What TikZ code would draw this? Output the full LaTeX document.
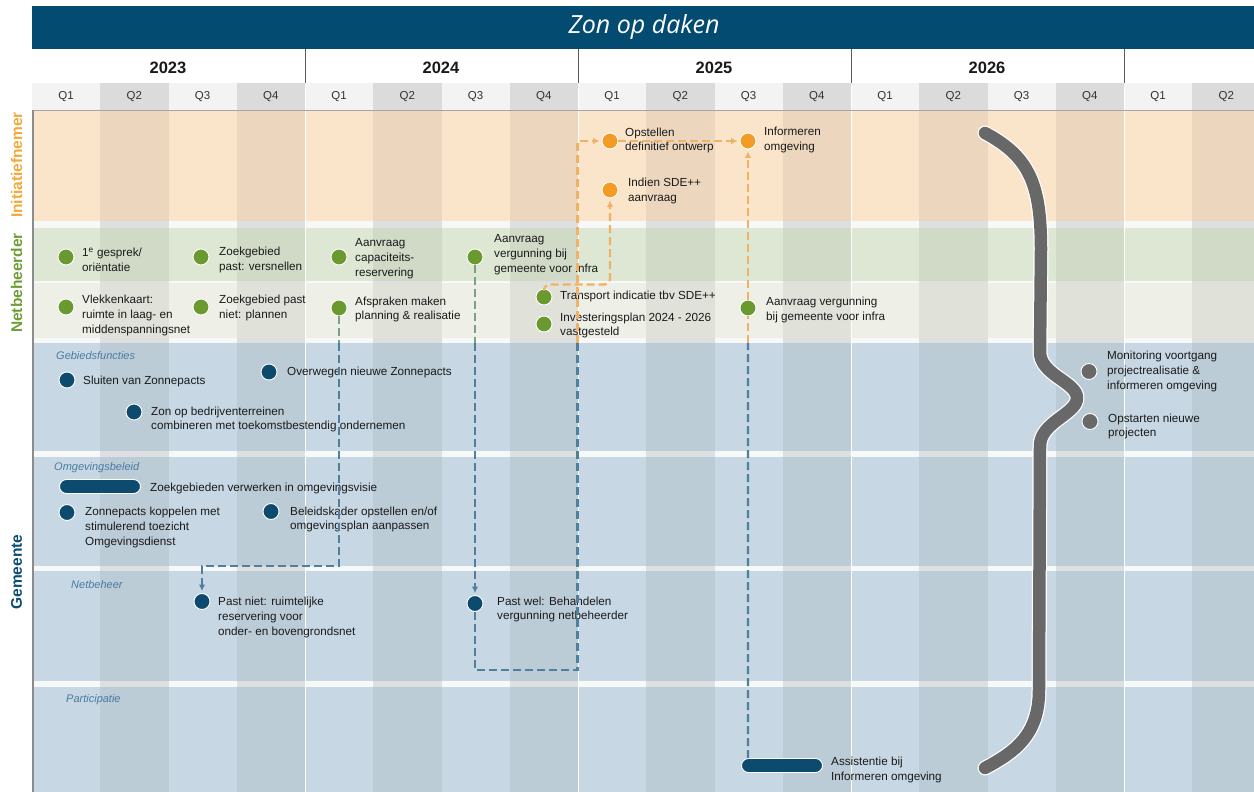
\documentclass[tikz,border=0pt]{standalone}
\usepackage{fontspec}
\setmainfont{Liberation Sans}
\newfontfamily\titlefont{Open Sans}
\usetikzlibrary{arrows.meta,calc}

% palette
\definecolor{navy}{HTML}{044B71}
\definecolor{txtc}{HTML}{1A1A1A}
\definecolor{qlight}{HTML}{F3F3F3}
\definecolor{qdark}{HTML}{DBDBDC}
\definecolor{peach}{HTML}{FAE4CA}
\definecolor{greenA}{HTML}{DEE7D3}
\definecolor{greenB}{HTML}{EEF0E7}
\definecolor{laneblue}{HTML}{C7D8E4}
\definecolor{seplight}{HTML}{F7F8F8}
\definecolor{sepdark}{HTML}{DEDFE0}
\definecolor{dotgreen}{HTML}{6A9A2F}
\definecolor{dotorange}{HTML}{F39C23}
\definecolor{dotblue}{HTML}{0C4A6E}
\definecolor{dotgray}{HTML}{696969}
\definecolor{braceg}{HTML}{686868}
\definecolor{lineO}{HTML}{F0B266}
\definecolor{lineB}{HTML}{4F809D}
\definecolor{lineG}{HTML}{7AA184}
\definecolor{lanec}{HTML}{4A7AA2}
\definecolor{lblorange}{HTML}{F2A93B}
\definecolor{lblgreen}{HTML}{6E9E35}
\definecolor{lblblue}{HTML}{0E4C6F}

\tikzset{
  txt/.style={anchor=west, inner sep=0pt, align=left, text=txtc,
    font=\fontsize{11.7}{14.9}\selectfont},
  lanelbl/.style={anchor=west, inner sep=0pt, text=lanec,
    font=\fontsize{11}{13}\selectfont\itshape},
  sidelbl/.style={rotate=90, inner sep=0pt, font=\fontsize{15.5}{18}\selectfont\bfseries},
  yearlbl/.style={inner sep=0pt, text=black!90, font=\fontsize{16.5}{18}\selectfont\bfseries},
  qlbl/.style={inner sep=0pt, text=black!80, font=\fontsize{11.5}{13}\selectfont},
  dot/.style={circle, inner sep=0pt, minimum size=16pt, draw=white, line width=0.9pt},
  dotG/.style={dot, fill=dotgreen},
  dotO/.style={dot, fill=dotorange},
  dotB/.style={dot, fill=dotblue},
  dotK/.style={dot, fill=dotgray},
  bar/.style={rectangle, rounded corners=7pt, minimum height=14pt, inner sep=0pt,
    fill=dotblue, draw=white, line width=0.9pt},
  flow/.style={line width=2.3pt, dash pattern=on 8pt off 4pt},
  flowO/.style={flow, draw=lineO},
  flowB/.style={flow, draw=lineB},
  flowG/.style={flow, draw=lineG},
  tip/.style={-{Latex[length=6.5pt,width=6.5pt]}, shorten >=2pt},
}

\begin{document}
\begin{tikzpicture}[x=1pt,y=-1pt]
\useasboundingbox (0,0) rectangle (1254,792);
\clip (0,0) rectangle (1254,792);

% ---------- lanes ----------
\fill[peach]    (32,110) rectangle (1254,221);
\fill[greenA]   (32,228) rectangle (1254,281);
\fill[greenB]   (32,283) rectangle (1254,338);
\fill[laneblue] (32,343) rectangle (1254,792);

% quarter columns: darker shade on every second quarter, separators, header cells
\foreach \k in {0,...,17} {
  \pgfmathsetmacro\xa{32+68.25*\k}
  \pgfmathsetmacro\xb{32+68.25*(\k+1)}
  \pgfmathtruncatemacro\odd{mod(\k,2)}
  \pgfmathtruncatemacro\qn{mod(\k,4)+1}
  \ifnum\odd=1
    \fill[black,opacity=0.055] (\xa,110) rectangle (\xb,792);
    \def\sepc{sepdark}\def\hc{qdark}
  \else
    \def\sepc{seplight}\def\hc{qlight}
  \fi
  \foreach \ya/\yb in {221/228, 281/283, 338/343, 451/457, 566/571, 681/687}
    \fill[\sepc] (\xa,\ya) rectangle (\xb,\yb);
  \fill[\hc] (\xa,83) rectangle (\xb,110);
  \node[qlbl] at ({32+68.25*(\k+0.5)},97) {Q\qn};
}

% year boundaries inside the lanes and header
\foreach \x in {305,578,851,1124} {
  \draw[white, line width=1pt] (\x,83) -- (\x,792);
  \draw[black!65, line width=0.9pt] (\x,49) -- (\x,83);
}
\draw[black!35, line width=1.4pt] (32,110.5) -- (1254,110.5);
\draw[black!45, line width=1.6pt] (32.8,110) -- (32.8,792);

% ---------- title and years ----------
\fill[navy] (32,6) rectangle (1254,49);
\node[text=white, inner sep=0pt, font=\titlefont\itshape\fontsize{25}{30}\selectfont]
  (title) at (644,27) {Zon op daken};
\node[yearlbl] (y23) at (168,68) {2023};
\node[yearlbl] (y24) at (441,68) {2024};
\node[yearlbl] (y25) at (714,68) {2025};
\node[yearlbl] (y26) at (987,68) {2026};

% ---------- side labels ----------
\node[sidelbl, text=lblorange] (sInit) at (16.5,165) {Initiatiefnemer};
\node[sidelbl, text=lblgreen]  (sNet)  at (16.5,283) {Netbeheerder};
\node[sidelbl, text=lblblue]   (sGem)  at (16.5,572) {Gemeente};

% ---------- sub-lane labels ----------
\node[lanelbl] (lGeb) at (56,356) {Gebiedsfuncties};
\node[lanelbl] (lOmg) at (54,468) {Omgevingsbeleid};
\node[lanelbl] (lNet) at (71,585) {Netbeheer};
\node[lanelbl] (lPar) at (66,700) {Participatie};

% ---------- brace ----------
\foreach \w/\c in {15/white, 12.5/braceg}
  \draw[line width=\w pt, draw=\c, line cap=round, line join=round]
    (985,133) .. controls (1030,157) and (1041,185) .. (1041,250)
    -- (1040,352) .. controls (1040,375) and (1077,382) .. (1077,398)
    .. controls (1077,414) and (1040,422) .. (1040,446)
    -- (1039,690) .. controls (1039,735) and (1015,752) .. (985,768);

% ---------- Initiatiefnemer ----------
\node[dotO] (opst) at (610,141) {};
\node[txt] (tOpst) at (625,140.5) {Opstellen\\definitief ontwerp};
\node[dotO] (inform) at (748,141) {};
\node[txt] (tInform) at (764,140) {Informeren\\omgeving};
\node[dotO] (sde) at (610,190) {};
\node[txt] (tSde) at (628,191) {Indien SDE++\\aanvraag};

% ---------- Netbeheerder ----------
\node[dotG] (gespr) at (66,257) {};
\node[txt] (tGespr) at (82,260) {1\textsuperscript{e} gesprek/\\oriëntatie};
\node[dotG] (zpast) at (201,257) {};
\node[txt] (tZpast) at (219,260) {Zoekgebied\\past: versnellen};
\node[dotG] (capac) at (339,257) {};
\node[txt] (tCapac) at (355,258.5) {Aanvraag\\capaciteits-\\reservering};
\node[dotG] (vergbij) at (475,257) {};
\node[txt] (tVergbij) at (494,255) {Aanvraag\\vergunning bij\\gemeente voor infra};

\node[dotG] (vlek) at (66,307) {};
\node[txt] (tVlek) at (82,315.5) {Vlekkenkaart:\\ruimte in laag- en\\middenspanningsnet};
\node[dotG] (zniet) at (201,307) {};
\node[txt] (tZniet) at (219,308) {Zoekgebied past\\niet: plannen};
\node[dotG] (afspr) at (339,308) {};
\node[txt] (tAfspr) at (355,309.5) {Afspraken maken\\planning \& realisatie};
\node[dotG] (transp) at (544,297) {};
\node[txt] (tTransp) at (560,296.5) {Transport indicatie tbv SDE++};
\node[dotG] (invest) at (544,324) {};
\node[txt] (tInvest) at (560,325.5) {Investeringsplan 2024 - 2026\\vastgesteld};
\node[dotG] (aanvr25) at (748,308) {};
\node[txt] (tAanvr25) at (766,310) {Aanvraag vergunning\\bij gemeente voor infra};

% ---------- Gemeente: Gebiedsfuncties ----------
\node[dotB] (sluit) at (67,380) {};
\node[txt] (tSluit) at (83,381.5) {Sluiten van Zonnepacts};
\node[dotB] (overw) at (269,372) {};
\node[txt] (tOverw) at (287,372.5) {Overwegen nieuwe Zonnepacts};
\node[dotB] (bedr) at (134,412) {};
\node[txt] (tBedr) at (151,419.5) {Zon op bedrijventerreinen\\combineren met toekomstbestendig ondernemen};
\node[dotK] (monit) at (1089,371.5) {};
\node[txt] (tMonit) at (1107,371.5) {Monitoring voortgang\\projectrealisatie \&\\informeren omgeving};
\node[dotK] (opstart) at (1090,421.5) {};
\node[txt] (tOpstart) at (1108,426.5) {Opstarten nieuwe\\projecten};

% ---------- Gemeente: Omgevingsbeleid ----------
\node[bar, minimum width=81pt] (zgbar) at (100,486.5) {};
\node[txt] (tZgbar) at (150,488) {Zoekgebieden verwerken in omgevingsvisie};
\node[dotB] (koppel) at (67,512.5) {};
\node[txt] (tKoppel) at (85,527.5) {Zonnepacts koppelen met\\stimulerend toezicht\\Omgevingsdienst};
\node[dotB] (beleid) at (271,511.5) {};
\node[txt] (tBeleid) at (290,519.5) {Beleidskader opstellen en/of\\omgevingsplan aanpassen};

% ---------- Gemeente: Netbeheer ----------
\node[dotB] (pniet) at (202,601.5) {};
\node[txt] (tPniet) at (218,617.5) {Past niet: ruimtelijke\\reservering voor\\onder- en bovengrondsnet};
\node[dotB] (pwel) at (475,603.5) {};
\node[txt] (tPwel) at (497,609.5) {Past wel: Behandelen\\vergunning netbeheerder};

% ---------- Gemeente: Participatie ----------
\node[bar, minimum width=81pt] (assist) at (782,765.5) {};
\node[txt] (tAssist) at (831,770) {Assistentie bij\\Informeren omgeving};

% ---------- flow connectors ----------
\coordinate (a0) at (339,343);
\coordinate (a1) at (339,566);
\coordinate (a2) at (202,566);
\draw[flowG] (afspr) -- (a0);
\draw[flowB, tip] (a0) -- (a1) -- (a2) -- (pniet);

\coordinate (b0) at (475,343);
\coordinate (b1) at (475,670);
\coordinate (b2) at (577.5,670);
\coordinate (b3) at (577.5,343);
\coordinate (b4) at (577.5,141);
\draw[flowG] (vergbij) -- (b0);
\draw[flowB, tip] (b0) -- (pwel);
\draw[flowB] (pwel) -- (b1) -- (b2) -- (b3);
\draw[flowO, tip] (b3) -- (b4) -- (opst);

\coordinate (c1) at (544,284.5);
\coordinate (c2) at (610,284.5);
\draw[flowO, tip, rounded corners=6pt] (transp) -- (c1) -- (c2) -- (sde);

\draw[flowO, tip] (opst) -- (inform);

\coordinate (e0) at ($(assist.north west)+(7,0)$);
\coordinate (e1) at (748,343);
\draw[flowB] (e0) -- (e1);
\draw[flowO] (e1) -- (aanvr25);
\draw[flowO, tip] (aanvr25) -- (inform);

\end{tikzpicture}
\end{document}
